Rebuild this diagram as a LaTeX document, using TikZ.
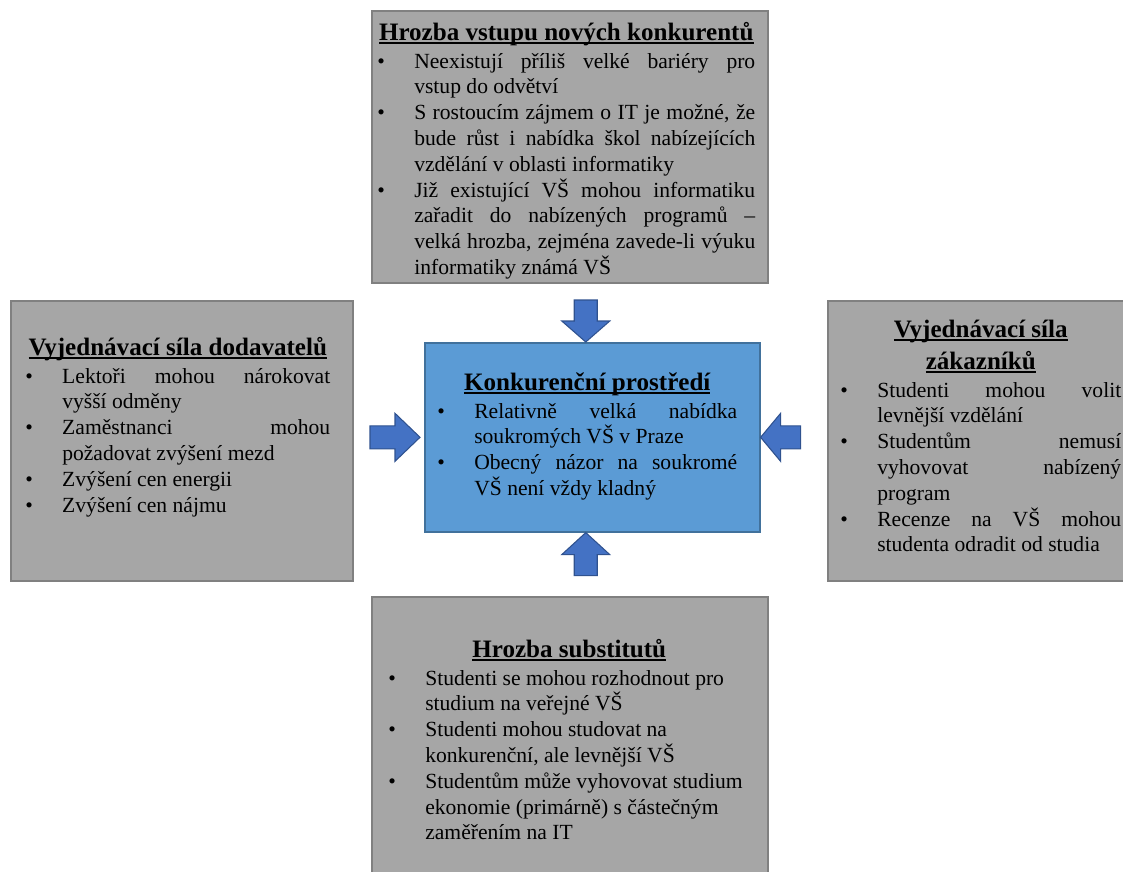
\documentclass[tikz,border=0pt]{standalone}
\usepackage{fontspec}
\setmainfont{Liberation Serif}
\usetikzlibrary{positioning}
\definecolor{boxgrey}{RGB}{166,166,166}
\definecolor{boxedge}{RGB}{128,128,128}
\definecolor{midblue}{RGB}{91,155,213}
\definecolor{midedge}{RGB}{65,113,156}
\definecolor{arrowblue}{RGB}{68,114,196}
\definecolor{arrowedge}{RGB}{47,82,143}
\newcommand{\titlefont}{\fontsize{18.8}{24}\selectfont\bfseries}
\newcommand{\bodyfont}{\fontsize{16.2}{19.35}\selectfont}
\newlength{\itemhang}\setlength{\itemhang}{27.75pt}
\newcommand{\pitem}{\par\hangindent=\itemhang\hangafter=1\noindent\makebox[\itemhang][l]{\textbullet}}
\newcommand{\nl}{\hspace{0pt plus 1fil}\break}
\newcommand{\funder}[1]{\setbox0\hbox{#1}\rlap{\rule[-2.7pt]{\wd0}{1.1pt}}\box0}
\newcommand{\ftitle}[1]{{\centering\titlefont\noindent\rule{0pt}{14pt}#1\par}\vspace{1.6pt}}
\newcommand{\forcearrow}[4]{\draw[pusharrow, shift={#1}, rotate=#2] (0,0) -- (-#4,24) -- (-#4,11.5) -- (-#3,11.5) -- (-#3,-11.5) -- (-#4,-11.5) -- (-#4,-24) -- cycle;}

\begin{document}
\begin{tikzpicture}[x=0.75pt, y=-0.75pt,
  forcebox/.style={draw=boxedge, fill=boxgrey, line width=1.2pt, inner sep=0pt, anchor=north west},
  rivalrybox/.style={draw=midedge, fill=midblue, line width=1.2pt, inner sep=0pt, anchor=north west},
  forcetext/.style={anchor=north west, inner sep=0pt, font=\bodyfont, align=justify},
  pusharrow/.style={draw=arrowedge, fill=arrowblue, line width=0.8pt, line join=miter}]

\useasboundingbox (0,0) rectangle (1123,871);

% the four forces
\node[forcebox, minimum width=297pt, minimum height=204pt] (entrants) at (371,10) {};
\node[forcebox, minimum width=256.5pt, minimum height=210pt] (suppliers) at (10,300) {};
\node[forcebox, minimum width=225pt, minimum height=210pt] (buyers) at (827,300) {};
\node[forcebox, minimum width=297pt, minimum height=213pt] (substitutes) at (371,596) {};
% rivalry in the middle
\node[rivalrybox, minimum width=251.25pt, minimum height=141.75pt] (rivalry) at (424,342) {};

\node[forcetext, text width=283.5pt] (entrantstext) at (377,21.3) {\ftitle{\funder{Hrozba vstupu nových konkurentů}}%
  \pitem Neexistují příliš velké bariéry pro \linebreak vstup do odvětví
  \pitem S rostoucím zájmem o IT je možné, že \linebreak bude růst i nabídka škol nabízejících \linebreak vzdělání v oblasti informatiky
  \pitem Již existující VŠ mohou informatiku \linebreak zařadit do nabízených programů – \linebreak velká hrozba, zejména zavede-li výuku \linebreak informatiky známá VŠ\par};

\node[forcetext, text width=228.75pt] (supplierstext) at (25,336.3) {\ftitle{\funder{Vyjednávací síla dodavatelů}}%
  \pitem Lektoři mohou nárokovat \linebreak vyšší odměny
  \pitem Zaměstnanci mohou \linebreak požadovat zvýšení mezd
  \pitem Zvýšení cen energii
  \pitem Zvýšení cen nájmu\par};

\node[forcetext, text width=210.75pt] (buyerstext) at (840,318.3) {\ftitle{\funder{Vyjednávací síla}\par\noindent\funder{zákazníků}}%
  \pitem Studenti mohou volit \linebreak levnější vzdělání
  \pitem Studentům nemusí \linebreak vyhovovat nabízený \linebreak program
  \pitem Recenze na VŠ mohou \linebreak studenta odradit od studia\par};

\node[forcetext, text width=271.5pt] (substitutestext) at (388,638.3) {\ftitle{\funder{Hrozba substitutů}}%
  \pitem Studenti se mohou rozhodnout pro\nl studium na veřejné VŠ
  \pitem Studenti mohou studovat na\nl konkurenční, ale levnější VŠ
  \pitem Studentům může vyhovovat studium\nl ekonomie (primárně) s částečným\nl zaměřením na IT\par};

\node[forcetext, text width=225pt] (rivalrytext) at (437,371.3) {\ftitle{\funder{Konkurenční prostředí}}%
  \pitem Relativně velká nabídka \linebreak soukromých VŠ v Praze
  \pitem Obecný názor na soukromé \linebreak VŠ není vždy kladný\par};

% block arrows pushing on the middle
\forcearrow{([xshift=-4.9pt]rivalry.north)}{-90}{42}{21}
\forcearrow{([xshift=-4.9pt]rivalry.south)}{90}{43}{22}
\forcearrow{([xshift=-3pt]rivalry.west)}{0}{50}{25}
\forcearrow{(rivalry.east)}{180}{40}{20}
\end{tikzpicture}
\end{document}
